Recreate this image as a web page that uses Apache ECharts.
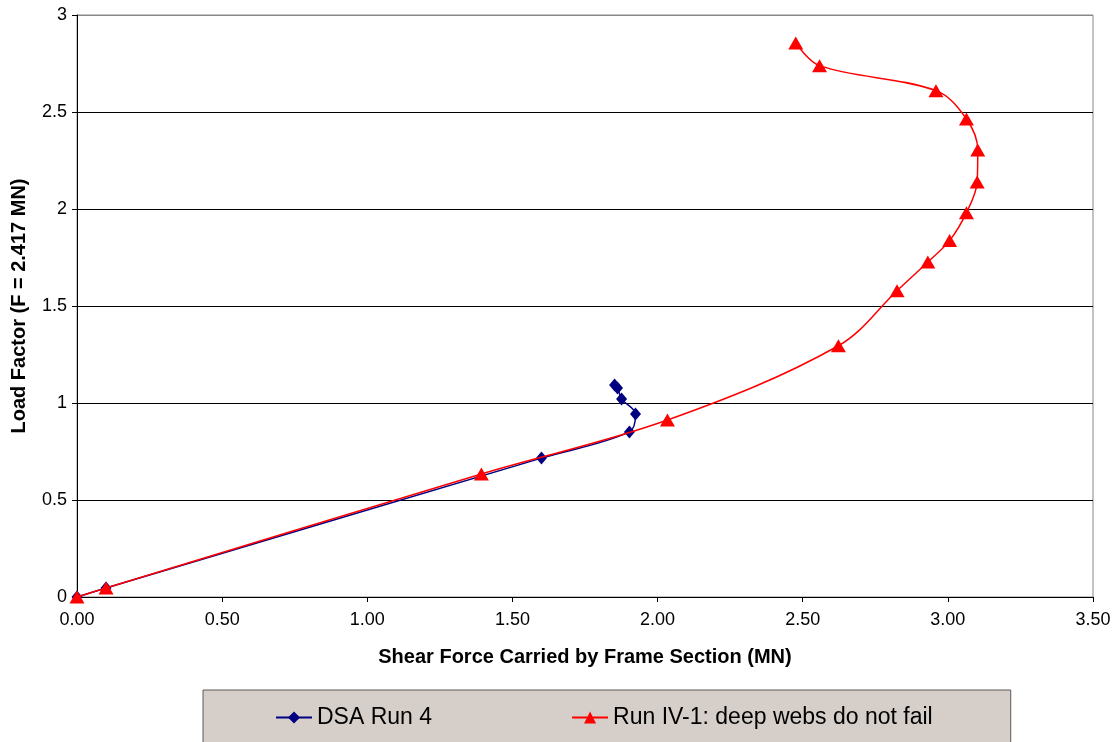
<!DOCTYPE html>
<html>
<head>
<meta charset="utf-8">
<script src="https://cdn.jsdelivr.net/npm/echarts@6/dist/echarts.min.js"></script>
<style>
  html, body { margin: 0; padding: 0; background: #fff; }
  #chart { width: 1116px; height: 742px; }
</style>
</head>
<body>
<div id="chart"></div>
<script>
// values
var dsaX = [0, 0.10, 1.60, 1.903, 1.924, 1.876, 1.862, 1.852];
var dsaY = [0, 0.046, 0.716, 0.851, 0.943, 1.021, 1.077, 1.093];

var runX = [0, 0.10, 1.393, 2.034, 2.623, 2.825, 2.931, 3.006, 3.064, 3.101, 3.103, 3.064, 2.959, 2.558, 2.476];
var runY = [0, 0.046, 0.634, 0.912, 1.295, 1.579, 1.727, 1.837, 1.981, 2.139, 2.304, 2.464, 2.610, 2.739, 2.856];

var seriesNames = ['DSA Run 4', 'Run IV-1: deep webs do not fail'];
var xTitle = 'Shear Force Carried by Frame Section (MN)';
var yTitle = 'Load Factor (F = 2.417 MN)';

function pairs(xs, ys) {
	var out = [];
	for (var i = 0; i < xs.length; i++) {
		out.push([xs[i], ys[i]]);
	}
	return out;
}

var font = "'Liberation Sans', Arial, sans-serif";

var chart = echarts.init(document.getElementById('chart'));
var option = {
	animation: false,
	textStyle: { fontFamily: font, color: '#000' },
	grid: {
		left: 77, right: 23, top: 15, bottom: 145,
		show: true, borderColor: '#888', borderWidth: 1,
		outerBoundsMode: 'none'
	},
	legend: {
		left: 203, top: 690,
		padding: [16, 78, 30, 72],
		itemGap: 139,
		itemWidth: 36, itemHeight: 15,
		backgroundColor: '#d6cfc9',
		borderColor: '#5a5a5a', borderWidth: 1,
		textStyle: { fontFamily: font, fontSize: 23, color: '#000' },
		data: seriesNames
	},
	xAxis: {
		type: 'value', min: 0, max: 3.5, interval: 0.5,
		name: xTitle, nameLocation: 'middle', nameGap: 50,
		nameTextStyle: { fontFamily: font, fontSize: 20, fontWeight: 'bold', color: '#000' },
		axisLine: { lineStyle: { color: '#000', width: 1 } },
		axisTick: { show: true, length: 5, lineStyle: { color: '#000' } },
		axisLabel: {
			margin: 14, fontSize: 18, color: '#000', fontFamily: font,
			formatter: function (v) { return v.toFixed(2); }
		},
		splitLine: { show: false }
	},
	yAxis: {
		type: 'value', min: 0, max: 3, interval: 0.5,
		name: yTitle, nameLocation: 'middle', nameGap: 48,
		nameTextStyle: { fontFamily: font, fontSize: 20, fontWeight: 'bold', color: '#000' },
		axisLine: { show: true, lineStyle: { color: '#000', width: 1 } },
		axisTick: { show: true, length: 5, lineStyle: { color: '#000' } },
		axisLabel: { margin: 10, fontSize: 18, color: '#000', fontFamily: font },
		splitLine: {
			show: true,
			lineStyle: { color: ['#000', '#000', '#000', '#000', '#000', '#000', '#888'], width: 1 }
		}
	},
	series: [
		{
			name: seriesNames[0],
			type: 'line',
			smooth: 0.35,
			data: pairs(dsaX, dsaY),
			symbol: 'diamond', symbolSize: [11, 13],
			lineStyle: { color: '#000080', width: 1.5 },
			itemStyle: { color: '#000080' },
			z: 2
		},
		{
			name: seriesNames[1],
			type: 'line',
			smooth: 0.35,
			data: pairs(runX, runY),
			symbol: 'triangle', symbolSize: [15, 13],
			lineStyle: { color: '#ff0000', width: 1.5 },
			itemStyle: { color: '#ff0000' },
			z: 3
		}
	]
};
chart.setOption(option);
</script>
</body>
</html>
